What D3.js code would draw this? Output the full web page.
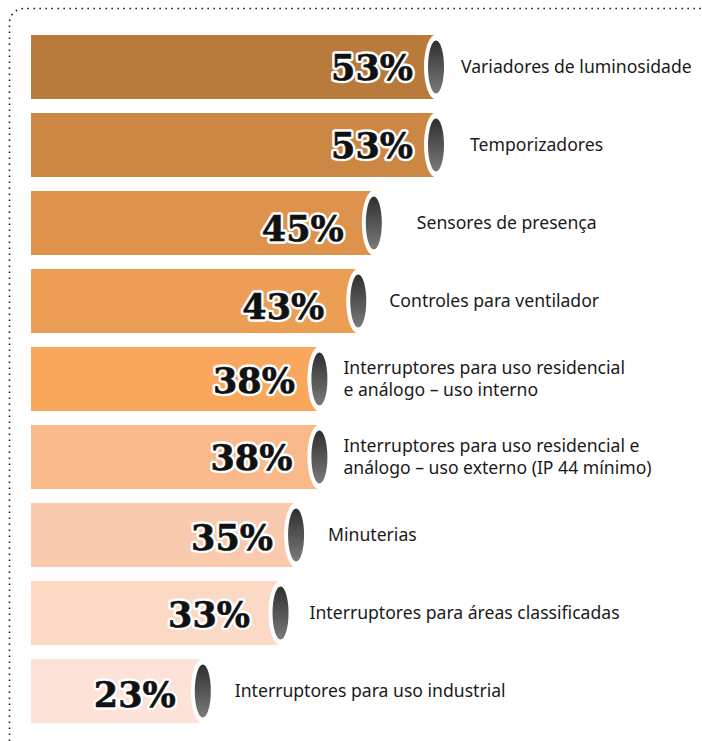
<!DOCTYPE html>
<html>
<head>
<meta charset="utf-8">
<script src="https://cdn.jsdelivr.net/npm/d3@7"></script>
<style>
  html, body { margin: 0; padding: 0; background: #fff; }
  svg { display: block; }
</style>
</head>
<body>
<svg id="chart" width="702" height="741"></svg>
<script>
// Share of products, by category
const categories = [
  "Variadores de luminosidade",
  "Temporizadores",
  "Sensores de presença",
  "Controles para ventilador",
  "Interruptores para uso residencial\ne análogo – uso interno",
  "Interruptores para uso residencial e\nanálogo – uso externo (IP 44 mínimo)",
  "Minuterias",
  "Interruptores para áreas classificadas",
  "Interruptores para uso industrial"
];
const values = [53, 53, 45, 43, 38, 38, 35, 33, 23];
const barColors = ["#B97B3C", "#CC8744", "#DE924C", "#ED9E55", "#F9A75C",
                   "#F9B98A", "#F9CAAD", "#FBD9C5", "#FCE2D7"];

const svg = d3.select("#chart");
const W = 702, H = 741;

// dotted frame with rounded top-left corner
svg.append("path")
  .attr("d", `M9.5,${H} V23 A14.5,14.5 0 0 1 24,8.5 H${W}`)
  .attr("fill", "none")
  .attr("stroke", "#1a1a1a")
  .attr("stroke-width", 1.6)
  .attr("stroke-dasharray", "1.6,4.4");

const x = d3.scaleLinear().domain([0, 53]).range([24, 436]);
const y = d3.scaleBand().domain(d3.range(categories.length))
  .range([35, 723]).paddingInner(14 / 78).paddingOuter(0);
const barLeft = 31;

// gradient for the dark cylinder end
const defs = svg.append("defs");
const grad = defs.append("linearGradient").attr("id", "capGrad")
  .attr("x1", 0).attr("y1", 0).attr("x2", 0).attr("y2", 1);
grad.append("stop").attr("offset", "0%").attr("stop-color", "#2f2f2f");
grad.append("stop").attr("offset", "100%").attr("stop-color", "#7a7a7a");

const rows = svg.append("g").selectAll("g")
  .data(values.map((v, i) => ({ v, i, name: categories[i] })))
  .join("g")
  .attr("transform", d => `translate(0,${y(d.i)})`);

const bh = y.bandwidth();

rows.append("rect")
  .attr("x", barLeft)
  .attr("y", 0)
  .attr("width", d => x(d.v) - barLeft)
  .attr("height", bh)
  .attr("fill", d => barColors[d.i]);

rows.append("ellipse")
  .attr("cx", d => x(d.v))
  .attr("cy", bh / 2)
  .attr("rx", 12)
  .attr("ry", bh / 2 + 0.5)
  .attr("fill", "#fff");

rows.append("ellipse")
  .attr("cx", d => x(d.v))
  .attr("cy", bh / 2)
  .attr("rx", 8)
  .attr("ry", 26.5)
  .attr("fill", "url(#capGrad)");

// value labels: white halo underneath, heavy black figures on top
const valueGap = [23, 23, 30, 34, 24.5, 27, 23, 30.5, 27];
const valueDy = [0, 0, 5, 5, 1, 0, 2, 1, 3];
const valueText = (sel) => sel
  .attr("x", d => x(d.v) - valueGap[d.i])
  .attr("y", d => bh / 2 + 12.5 + valueDy[d.i])
  .attr("text-anchor", "end")
  .attr("font-family", "'DejaVu Serif', serif")
  .attr("font-weight", "bold")
  .attr("font-size", 35)
  .text(d => d.v + "%");

rows.append("text").call(valueText)
  .attr("fill", "#fff")
  .attr("stroke", "#fff")
  .attr("stroke-width", 5.5)
  .attr("stroke-linejoin", "round");

rows.append("text").call(valueText)
  .attr("fill", "#111")
  .attr("stroke", "#111")
  .attr("stroke-width", 0.6)
  .attr("stroke-linejoin", "round");

// category labels
const labelGap = [25, 34, 43, 31, 24, 24, 32, 29, 32];
rows.append("text")
  .attr("font-family", "'Noto Sans', sans-serif")
  .attr("font-size", 17.6)
  .attr("fill", "#1a1a1a")
  .each(function (d) {
    const lines = d.name.split("\n");
    const t = d3.select(this);
    const lh = 22;
    const y0 = bh / 2 + 6 - (lines.length - 1) * lh / 2;
    lines.forEach((ln, k) => {
      t.append("tspan").attr("x", x(d.v) + labelGap[d.i]).attr("y", y0 + k * lh).text(ln);
    });
  });
</script>
</body>
</html>
